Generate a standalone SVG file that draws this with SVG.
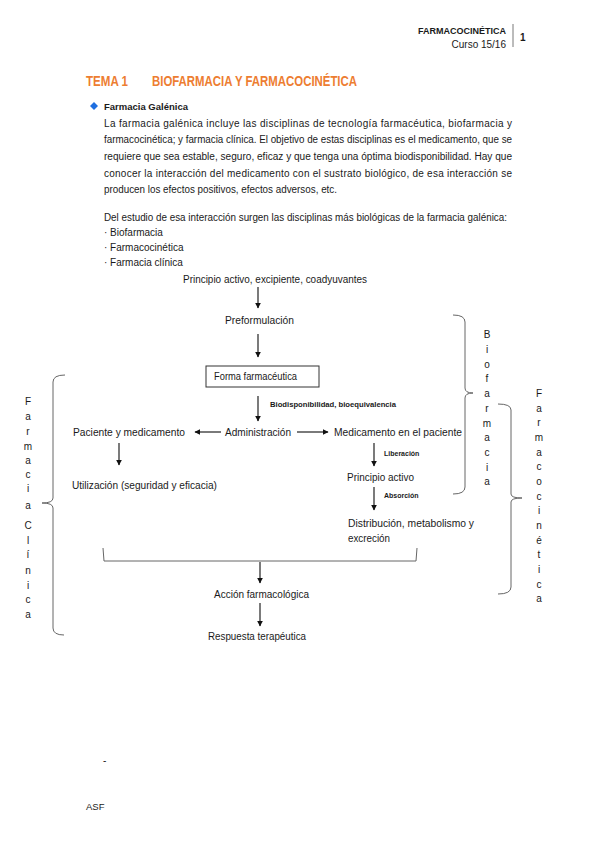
<svg xmlns="http://www.w3.org/2000/svg" width="599" height="848" viewBox="0 0 599 848">
<defs>
<style>
text{font-family:"Liberation Sans",Arial,sans-serif;fill:#1a1a1a;font-size:10px}
.t{font-size:10px}
.b{font-weight:bold}
.s{font-size:7px;font-weight:bold}
.title{font-size:14px;font-weight:bold;fill:#ED7D31}
.v{text-anchor:middle;font-size:10px}
.ln{stroke:#222;stroke-width:1.2;fill:none}
.br{stroke:#666;stroke-width:1;fill:none}
</style>
<marker id="ah" viewBox="0 0 10 10" refX="9" refY="5" markerWidth="6" markerHeight="6" orient="auto" markerUnits="userSpaceOnUse">
<path d="M0,0 L10,5 L0,10 z" fill="#111"/>
</marker>
</defs>
<rect width="599" height="848" fill="#fff"/>

<g id="header">
<text x="506" y="34" text-anchor="end" class="b" style="font-size:9px">FARMACOCINÉTICA</text>
<text x="506" y="48" text-anchor="end" style="font-size:10px">Curso 15/16</text>
<line x1="513" y1="24" x2="513" y2="47" stroke="#555" stroke-width="0.8"/>
<text x="520" y="41" class="b" style="font-size:10px">1</text>
</g>

<g id="title">
<text x="86" y="86" class="title" textLength="42" lengthAdjust="spacingAndGlyphs">TEMA 1</text>
<text x="152" y="86" class="title" textLength="205" lengthAdjust="spacingAndGlyphs">BIOFARMACIA Y FARMACOCINÉTICA</text>
</g>

<g id="intro">
<path d="M90,106 L94,102 L98,106 L94,110 z" fill="#1F6FE0"/>
<text x="104" y="110" class="b" style="font-size:9.5px">Farmacia Galénica</text>
<text x="104" y="127" textLength="408" lengthAdjust="spacing">La farmacia galénica incluye las disciplinas de tecnología farmacéutica, biofarmacia y</text>
<text x="104" y="143" textLength="408" lengthAdjust="spacingAndGlyphs">farmacocinética; y farmacia clínica. El objetivo de estas disciplinas es el medicamento, que se</text>
<text x="104" y="160" textLength="408" lengthAdjust="spacingAndGlyphs">requiere que sea estable, seguro, eficaz y que tenga una óptima biodisponibilidad. Hay que</text>
<text x="104" y="177" textLength="408" lengthAdjust="spacing">conocer la interacción del medicamento con el sustrato biológico, de esa interacción se</text>
<text x="104" y="193" textLength="233" lengthAdjust="spacingAndGlyphs">producen los efectos positivos, efectos adversos, etc.</text>
<text x="104" y="221" textLength="403" lengthAdjust="spacingAndGlyphs">Del estudio de esa interacción surgen las disciplinas más biológicas de la farmacia galénica:</text>
<text x="104" y="236">· Biofarmacia</text>
<text x="104" y="251">· Farmacocinética</text>
<text x="104" y="266">· Farmacia clínica</text>
</g>

<g id="connectors">
<line x1="258" y1="287" x2="258" y2="308" class="ln" marker-end="url(#ah)"/>
<line x1="258" y1="334" x2="258" y2="357" class="ln" marker-end="url(#ah)"/>
<line x1="258" y1="396" x2="258" y2="421" class="ln" marker-end="url(#ah)"/>
<line x1="221" y1="432" x2="195" y2="432" class="ln" marker-end="url(#ah)"/>
<line x1="297" y1="432" x2="328" y2="432" class="ln" marker-end="url(#ah)"/>
<line x1="119" y1="443" x2="119" y2="465" class="ln" marker-end="url(#ah)"/>
<line x1="374" y1="443" x2="374" y2="466" class="ln" marker-end="url(#ah)"/>
<line x1="374" y1="487" x2="374" y2="510" class="ln" marker-end="url(#ah)"/>
<path d="M103,548 L104,561 L416,561 L417,548" class="br"/>
<line x1="260" y1="562" x2="260" y2="583" class="ln" marker-end="url(#ah)"/>
<line x1="260" y1="603" x2="260" y2="626" class="ln" marker-end="url(#ah)"/>
<text x="270" y="407" class="s" textLength="126" lengthAdjust="spacingAndGlyphs">Biodisponibilidad, bioequivalencia</text>
<text x="384" y="456" class="s">Liberación</text>
<text x="384" y="498" class="s">Absorción</text>
</g>

<g id="n-principio"><text x="183" y="283" textLength="184" lengthAdjust="spacingAndGlyphs">Principio activo, excipiente, coadyuvantes</text></g>
<g id="n-preformulacion"><text x="225" y="324" textLength="69" lengthAdjust="spacingAndGlyphs">Preformulación</text></g>
<g id="n-forma"><rect x="206" y="366" width="113" height="21" fill="#fff" stroke="#333" stroke-width="1"/><text x="214" y="380" textLength="83" lengthAdjust="spacingAndGlyphs">Forma farmacéutica</text></g>
<g id="n-paciente"><text x="73" y="436" textLength="112" lengthAdjust="spacingAndGlyphs">Paciente y medicamento</text></g>
<g id="n-administracion"><text x="225" y="436" textLength="66" lengthAdjust="spacingAndGlyphs">Administración</text></g>
<g id="n-medicamento"><text x="334" y="436" textLength="128" lengthAdjust="spacingAndGlyphs">Medicamento en el paciente</text></g>
<g id="n-utilizacion"><text x="72" y="489" textLength="145" lengthAdjust="spacingAndGlyphs">Utilización (seguridad y eficacia)</text></g>
<g id="n-pactivo"><text x="347" y="481" textLength="67" lengthAdjust="spacingAndGlyphs">Principio activo</text></g>
<g id="n-distribucion"><text x="348" y="527" textLength="126" lengthAdjust="spacingAndGlyphs">Distribución, metabolismo y</text><text x="348" y="542" textLength="42" lengthAdjust="spacingAndGlyphs">excreción</text></g>
<g id="n-accion"><text x="214" y="598" textLength="95" lengthAdjust="spacingAndGlyphs">Acción farmacológica</text></g>
<g id="n-respuesta"><text x="208" y="640" textLength="98" lengthAdjust="spacingAndGlyphs">Respuesta terapéutica</text></g>

<g id="brace-biofarmacia">
<path d="M453,315 Q465,315 465,322 L465,388 Q465,393 473,393 Q465,393 465,398 L465,487 Q465,494 453,494" class="br"/>
<g class="v">
<text x="487" y="338" class="v">B</text><text x="487" y="353" class="v">i</text><text x="487" y="368" class="v">o</text><text x="487" y="382" class="v">f</text><text x="487" y="397" class="v">a</text><text x="487" y="412" class="v">r</text><text x="487" y="427" class="v">m</text><text x="487" y="441" class="v">a</text><text x="487" y="456" class="v">c</text><text x="487" y="471" class="v">i</text><text x="487" y="485" class="v">a</text>
</g>
</g>

<g id="brace-farmacocinetica">
<path d="M498,404 Q511,404 511,410 L511,494 Q511,498 522,498 Q511,498 511,502 L511,587 Q511,594 498,594" class="br"/>
<text x="539" y="397" class="v">F</text><text x="539" y="412" class="v">a</text><text x="539" y="426" class="v">r</text><text x="539" y="441" class="v">m</text><text x="539" y="456" class="v">a</text><text x="539" y="470" class="v">c</text><text x="539" y="485" class="v">o</text><text x="539" y="500" class="v">c</text><text x="539" y="514" class="v">i</text><text x="539" y="529" class="v">n</text><text x="539" y="544" class="v">é</text><text x="539" y="558" class="v">t</text><text x="539" y="573" class="v">i</text><text x="539" y="588" class="v">c</text><text x="539" y="602" class="v">a</text>
</g>

<g id="brace-farmaciaclinica">
<path d="M65,375 Q53,375 53,382 L53,498 Q53,503 42,503 Q53,503 53,508 L53,628 Q53,635 64,635" class="br"/>
<text x="28" y="405" class="v">F</text><text x="28" y="420" class="v">a</text><text x="28" y="435" class="v">r</text><text x="28" y="450" class="v">m</text><text x="28" y="464" class="v">a</text><text x="28" y="478" class="v">c</text><text x="28" y="492" class="v">i</text><text x="28" y="509" class="v">a</text><text x="28" y="529" class="v">C</text><text x="28" y="544" class="v">l</text><text x="28" y="558" class="v">í</text><text x="28" y="574" class="v">n</text><text x="28" y="589" class="v">i</text><text x="28" y="603" class="v">c</text><text x="28" y="618" class="v">a</text>
</g>

<g id="footer">
<text x="103" y="764">-</text>
<text x="86" y="810" style="font-size:9.5px">ASF</text>
</g>
</svg>
